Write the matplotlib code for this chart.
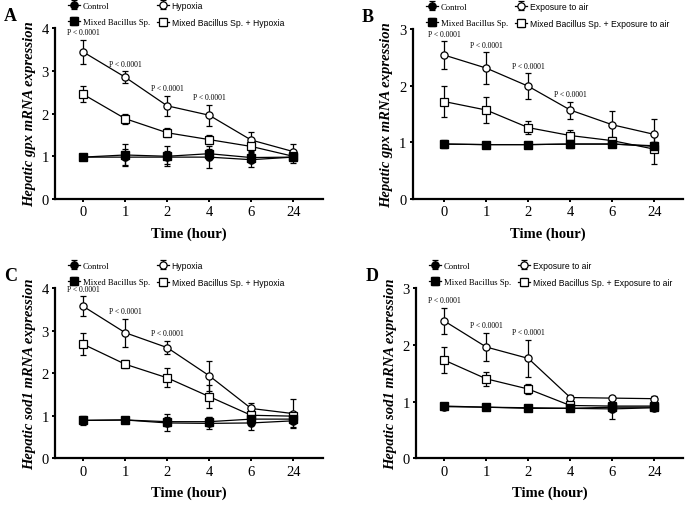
import matplotlib
matplotlib.use("Agg")
import matplotlib.pyplot as plt

SERIF = "Liberation Serif"
SANS = "Liberation Sans"
plt.rcParams['font.family'] = SERIF

time_labels = ["0", "1", "2", "4", "6", "24"]
xpos = list(range(len(time_labels)))

# Panel A - hepatic gpx, hypoxia
a_control = [0.98, 0.98, 0.98, 0.98, 0.92, 0.98]
a_control_err = [0.05, 0.18, 0.15, 0.25, 0.18, 0.13]
a_mixed = [0.98, 1.03, 1.00, 1.06, 0.97, 0.98]
a_mixed_err = [0.05, 0.25, 0.23, 0.12, 0.10, 0.10]
a_stress = [3.44, 2.85, 2.18, 1.96, 1.38, 1.11]
a_stress_err = [0.28, 0.14, 0.24, 0.25, 0.18, 0.17]
a_mixstress = [2.45, 1.88, 1.55, 1.39, 1.23, 1.00]
a_mixstress_err = [0.19, 0.12, 0.10, 0.10, 0.10, 0.06]
a_pvals = [0, 1, 2, 3]

# Panel B - hepatic gpx, exposure to air
b_control = [0.97, 0.96, 0.96, 0.97, 0.97, 0.93]
b_control_err = [0.07, 0.05, 0.05, 0.07, 0.06, 0.07]
b_mixed = [0.97, 0.96, 0.96, 0.97, 0.97, 0.94]
b_mixed_err = [0.05, 0.05, 0.05, 0.06, 0.06, 0.06]
b_stress = [2.54, 2.31, 1.99, 1.57, 1.31, 1.14]
b_stress_err = [0.24, 0.28, 0.23, 0.15, 0.24, 0.27]
b_mixstress = [1.72, 1.57, 1.26, 1.12, 1.03, 0.88]
b_mixstress_err = [0.27, 0.23, 0.12, 0.10, 0.06, 0.26]
b_pvals = [0, 1, 2, 3]

# Panel C - hepatic sod1, hypoxia
c_control = [0.89, 0.90, 0.83, 0.82, 0.83, 0.88]
c_control_err = [0.10, 0.05, 0.20, 0.14, 0.16, 0.15]
c_mixed = [0.89, 0.90, 0.86, 0.86, 0.92, 0.92]
c_mixed_err = [0.08, 0.05, 0.10, 0.10, 0.08, 0.08]
c_stress = [3.57, 2.95, 2.60, 1.94, 1.17, 1.05]
c_stress_err = [0.23, 0.33, 0.16, 0.35, 0.14, 0.34]
c_mixstress = [2.68, 2.21, 1.89, 1.45, 1.01, 0.99]
c_mixstress_err = [0.26, 0.10, 0.22, 0.27, 0.05, 0.06]
c_pvals = [0, 1, 2]

# Panel D - hepatic sod1, exposure to air
d_control = [0.91, 0.90, 0.88, 0.88, 0.87, 0.89]
d_control_err = [0.03, 0.03, 0.03, 0.03, 0.18, 0.04]
d_mixed = [0.92, 0.90, 0.89, 0.88, 0.90, 0.90]
d_mixed_err = [0.03, 0.03, 0.03, 0.03, 0.05, 0.04]
d_stress = [2.42, 1.96, 1.76, 1.07, 1.06, 1.05]
d_stress_err = [0.23, 0.25, 0.33, 0.05, 0.04, 0.04]
d_mixstress = [1.73, 1.40, 1.22, 0.93, 0.92, 0.92]
d_mixstress_err = [0.23, 0.12, 0.09, 0.04, 0.04, 0.04]
d_pvals = [0, 1, 2]


def panel(ax, letter, gene, stress, ymax, control, control_err, mixed, mixed_err,
          st, st_err, mst, mst_err, pvals, xlim):
    eb = dict(color='black', lw=0.9, capsize=2.5, elinewidth=0.9, capthick=0.9, ms=5.2)
    h_st = ax.errorbar(xpos, st, yerr=st_err, marker='o', mfc='white', mec='black', mew=0.9, **eb)
    h_mst = ax.errorbar(xpos, mst, yerr=mst_err, marker='s', mfc='white', mec='black', mew=0.9, **eb)
    h_c = ax.errorbar(xpos, control, yerr=control_err, marker='o', mfc='black', mec='black', **eb)
    h_m = ax.errorbar(xpos, mixed, yerr=mixed_err, marker='s', mfc='black', mec='black', **eb)

    for i in pvals:
        ax.annotate("P < 0.0001", (xpos[i], st[i] + st_err[i]), xytext=(0, 2.5),
                    textcoords='offset points', ha='center', va='bottom', fontsize=5.5)

    ax.set_xlim(*xlim)
    ax.set_ylim(0, ymax)
    ax.set_xticks(xpos)
    ax.set_xticklabels(time_labels)
    ax.set_yticks(range(0, ymax + 1))
    ax.tick_params(labelsize=10.5, width=1.4, length=2.5, pad=2)
    for s in ['top', 'right']:
        ax.spines[s].set_visible(False)
    for s in ['left', 'bottom']:
        ax.spines[s].set_linewidth(1.6)

    ax.set_xlabel("Time (hour)", fontsize=10.5, fontweight='bold', labelpad=6)
    ax.set_ylabel("Hepatic " + gene + " mRNA expression", fontsize=10.5,
                  fontweight='bold', fontstyle='italic', labelpad=4)

    # column-wise fill: left column Control / Mixed, right column the stress groups
    leg = ax.legend([h_c, h_m, h_st, h_mst],
                    ["Control", "Mixed Bacillus Sp.", stress, "Mixed Bacillus Sp. + " + stress],
                    ncol=2, loc='lower left', bbox_to_anchor=(0.05, 1.005), frameon=False,
                    fontsize=6.2, handlelength=1.4, handletextpad=0.3, columnspacing=0.8,
                    labelspacing=1.0, borderpad=0, borderaxespad=0)
    # labels with stress wording are in a sans font in the original
    texts = leg.get_texts()
    texts[2].set_fontfamily(SANS)
    texts[3].set_fontfamily(SANS)

    ax.text(-0.19, 1.125, letter, transform=ax.transAxes, fontsize=13, fontweight='bold',
            ha='left', va='top')


fig = plt.figure(figsize=(6.85, 5.06), dpi=100)
ax_a = fig.add_axes([0.0803, 0.6047, 0.3912, 0.3380])
ax_b = fig.add_axes([0.6025, 0.6047, 0.3945, 0.3360])
ax_c = fig.add_axes([0.0803, 0.0923, 0.3912, 0.3366])
ax_d = fig.add_axes([0.6073, 0.0923, 0.3897, 0.3366])

panel(ax_a, "A", "gpx", "Hypoxia", 4, a_control, a_control_err, a_mixed, a_mixed_err,
      a_stress, a_stress_err, a_mixstress, a_mixstress_err, a_pvals, (-0.67, 5.71))
panel(ax_b, "B", "gpx", "Exposure to air", 3, b_control, b_control_err, b_mixed, b_mixed_err,
      b_stress, b_stress_err, b_mixstress, b_mixstress_err, b_pvals, (-0.75, 5.68))
panel(ax_c, "C", "sod1", "Hypoxia", 4, c_control, c_control_err, c_mixed, c_mixed_err,
      c_stress, c_stress_err, c_mixstress, c_mixstress_err, c_pvals, (-0.67, 5.71))
panel(ax_d, "D", "sod1", "Exposure to air", 3, d_control, d_control_err, d_mixed, d_mixed_err,
      d_stress, d_stress_err, d_mixstress, d_mixstress_err, d_pvals, (-0.67, 5.68))

fig.savefig("out.png", dpi=100)
